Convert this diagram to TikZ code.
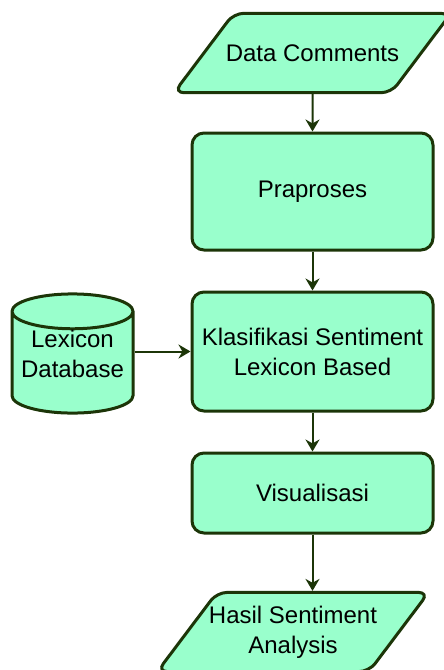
\documentclass[tikz,border=0pt]{standalone}
\usepackage{fontspec}
\setmainfont{Liberation Sans}
\usepackage{tikz}
\usetikzlibrary{shapes.geometric}
\usetikzlibrary{arrows.meta}
\usetikzlibrary{positioning}

\definecolor{mint}{HTML}{99FFCC}
\definecolor{leaf}{HTML}{1C3508}

\begin{document}
\begin{tikzpicture}[
        x=0.5pt, y=-0.5pt,
        font=\fontsize{12}{15}\selectfont,
        process/.style={rectangle, rounded corners=6pt, draw=leaf, fill=mint, line width=1.5pt, minimum width=120.5pt, align=center},
        io/.style={trapezium, trapezium left angle=53, trapezium right angle=127, trapezium stretches body, rounded corners=5pt, draw=leaf, fill=mint, line width=1.5pt, inner xsep=-4pt, minimum width=135pt, align=center},
        store/.style={cylinder, shape border rotate=90, aspect=0.3, draw=leaf, fill=mint, line width=1.5pt, minimum width=60.5pt, minimum height=58.5pt, anchor=shape center},
        flow/.style={-{Stealth[length=6pt, width=7pt]}, draw=leaf, line width=1pt}
      ]
        \useasboundingbox (0,0) rectangle (444,670);

        \node[io]       (data)   at (312.5, 53)     [inner ysep=15.6pt]      {Data Comments};
        \node[process]  (prep)   at (312.5, 191.5)  [minimum height=58.5pt]  {Praproses};
        \node[process]  (klas)   at (312.5, 351.5)  [minimum height=59.5pt]  {Klasifikasi Sentiment\\Lexicon Based};
        \node[process]  (vis)    at (312.5, 493)    [minimum height=40pt]    {Visualisasi};
        \node[io]       (hasil)  at (293, 632)      [inner ysep=6.7pt]       {Hasil Sentiment\\Analysis};
        \node[store]    (lex)    at (72.5, 353.5)   {\raisebox{5pt}[\height][\depth]{\begin{tabular}{@{}c@{}}Lexicon\\Database\end{tabular}}};

        \draw[flow]  (data.south) -- (prep.north);
        \draw[flow]  (prep.south) -- (klas.north);
        \draw[flow]  (klas.south) -- (vis.north);
        \draw[flow]  (vis.south) -- (vis.south |- hasil.north);
        \draw[flow]  (klas.west -| lex.east) -- (klas.west);
      \end{tikzpicture}
\end{document}
